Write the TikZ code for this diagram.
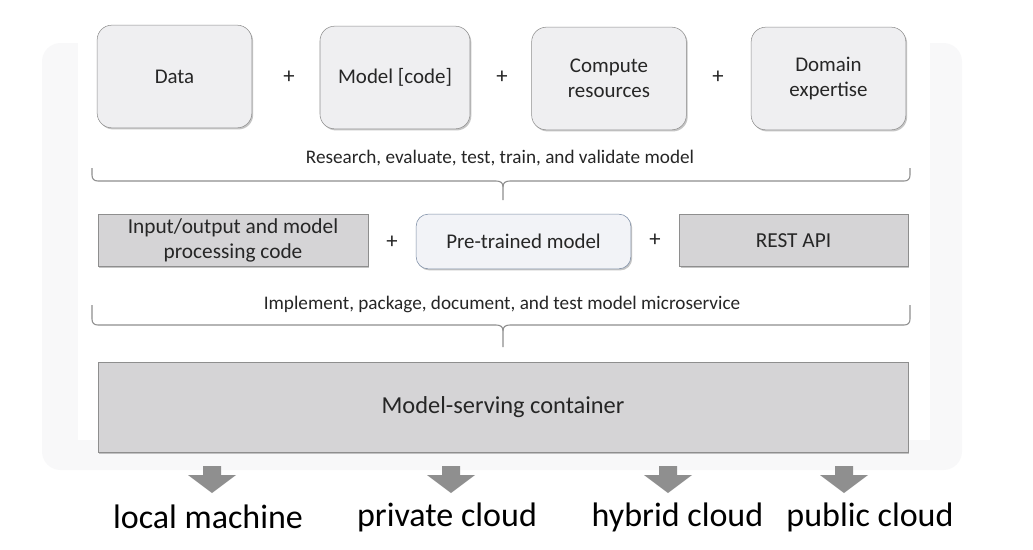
\documentclass[tikz,border=0pt]{standalone}
\usepackage{fontspec}
\setmainfont{Carlito}
\usepackage{tikz}
\usetikzlibrary{positioning,shadows}

\definecolor{boxfill}{HTML}{EFEFF1}
\definecolor{boxline}{HTML}{8E8E8E}
\definecolor{darkfill}{HTML}{D5D4D6}
\definecolor{blueline}{HTML}{7C8DA6}
\definecolor{palefill}{HTML}{F2F3F7}
\definecolor{arrowgray}{HTML}{8F8F8F}
\definecolor{framegray}{HTML}{F8F8F9}
\definecolor{textgray}{HTML}{262626}

\tikzset{
	boxshadow/.style={drop shadow={shadow xshift=1pt, shadow yshift=-1.2pt, fill=black!45}},
	topbox/.style={draw=boxline, fill=boxfill, rounded corners=11pt, minimum width=116pt, minimum height=77pt, align=center, text=textgray, font=\fontsize{15.7}{18.75}\selectfont, boxshadow},
	graybox/.style={draw=boxline, fill=darkfill, minimum height=39pt, align=center, text=textgray, font=\fontsize{16}{18.75}\selectfont, boxshadow},
	plus/.style={text=textgray, font=\fontsize{17}{17}\selectfont},
	note/.style={text=textgray, font=\fontsize{14.4}{16}\selectfont},
	braceline/.style={draw=boxline, line width=0.8pt},
	place/.style={text=black, font=\fontsize{25.5}{28}\selectfont}
}

\begin{document}
\begin{tikzpicture}[x=0.75pt, y=-0.75pt]
	\useasboundingbox[fill=white] (0,0) rectangle (1033,550);
	% faint slide frame
	\fill[framegray, rounded corners=14pt] (42,43) rectangle (962,470);
	\fill[white] (78,0) rectangle (930,440);

	% first row
	\node[topbox] (data) at (174.5,76.5) {Data};
	\node[topbox, minimum width=112.5pt] (model) at (395,77.5) {Model [code]};
	\node[topbox] (compute) at (609,78.5) {Compute\\resources};
	\node[topbox] (domain) at (828.5,78.5) {Domain\\expertise};
	\node[plus] (p1) at (289,77) {+};
	\node[plus] (p2) at (502,77) {+};
	\node[plus] (p3) at (718,77) {+};

	\node[note] (research) at (500,158) {Research, evaluate, test, train, and validate model};
	\node[note] (implement) at (502,304) {Implement, package, document, and test model microservice};

	% braces
	\foreach \t/\f/\e in {168/181/200, 305/325/347}{
		\draw[braceline] (92,\t) -- (92,\f-6) .. controls (92,\f-2) and (94,\f) .. (98,\f) -- (496,\f) .. controls (501,\f) and (503,\f+2) .. (503,\f+6) -- (503,\e);
		\draw[braceline] (503,\f+6) .. controls (503,\f+2) and (505,\f) .. (510,\f) -- (904,\f) .. controls (908,\f) and (910,\f-2) .. (910,\f-6) -- (910,\t);
	}

	% second row
	\node[graybox, minimum width=202.5pt] (io) at (233,240) {Input/output and model\\processing code};
	\node[topbox, draw=blueline, fill=palefill, rounded corners=9pt, minimum width=161pt, minimum height=41pt] (pretrained) at (523.5,241.5) {Pre-trained model};
	\node[graybox, minimum width=171.5pt] (rest) at (793.5,240.5) {REST API};
	\node[plus] (p4) at (392,242) {+};
	\node[plus] (p5) at (655,240) {+};

	% container
	\node[graybox, minimum width=607.5pt, minimum height=67.5pt, font=\fontsize{18.3}{20}\selectfont] (container) at (503,407) {Model-serving container};

	% targets
	\foreach \c in {212,451,668,844}
		\fill[arrowgray] (\c,466) ++(-9,0) -- ++(18,0) -- ++(0,9) -- ++(15,0) -- ++(-24,18) -- ++(-24,-18) -- ++(15,0) -- cycle;
	\node[place] (local) at (208,517) {local machine};
	\node[place] (private) at (447,517) {private cloud};
	\node[place] (hybrid) at (677.5,517) {hybrid cloud};
	\node[place] (public) at (870,517) {public cloud};
\end{tikzpicture}
\end{document}
